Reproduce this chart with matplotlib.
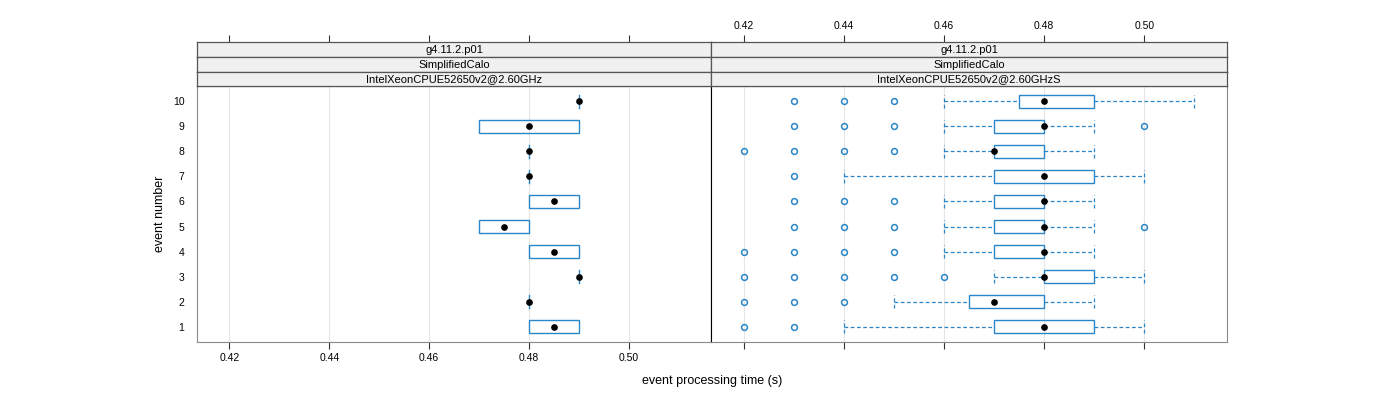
import matplotlib
matplotlib.use("Agg")
import matplotlib.pyplot as plt
import numpy as np

plt.rcParams["font.family"] = ["Liberation Sans", "DejaVu Sans"]

events = [1, 2, 3, 4, 5, 6, 7, 8, 9, 10]

strip_top = ["g4.11.2.p01", "g4.11.2.p01"]
strip_mid = ["SimplifiedCalo", "SimplifiedCalo"]
strip_bot = ["IntelXeonCPUE52650v2@2.60GHz", "IntelXeonCPUE52650v2@2.60GHzS"]

# box stats per event: whisker low, q1, median, q3, whisker high
left_lo = [0.48, 0.48, 0.49, 0.48, 0.47, 0.48, 0.48, 0.48, 0.47, 0.49]
left_q1 = [0.48, 0.48, 0.49, 0.48, 0.47, 0.48, 0.48, 0.48, 0.47, 0.49]
left_med = [0.485, 0.48, 0.49, 0.485, 0.475, 0.485, 0.48, 0.48, 0.48, 0.49]
left_q3 = [0.49, 0.48, 0.49, 0.49, 0.48, 0.49, 0.48, 0.48, 0.49, 0.49]
left_hi = [0.49, 0.48, 0.49, 0.49, 0.48, 0.49, 0.48, 0.48, 0.49, 0.49]
left_out = [[], [], [], [], [], [], [], [], [], []]

right_lo = [0.44, 0.45, 0.47, 0.46, 0.46, 0.46, 0.44, 0.46, 0.46, 0.46]
right_q1 = [0.47, 0.465, 0.48, 0.47, 0.47, 0.47, 0.47, 0.47, 0.47, 0.475]
right_med = [0.48, 0.47, 0.48, 0.48, 0.48, 0.48, 0.48, 0.47, 0.48, 0.48]
right_q3 = [0.49, 0.48, 0.49, 0.48, 0.48, 0.48, 0.49, 0.48, 0.48, 0.49]
right_hi = [0.50, 0.49, 0.50, 0.49, 0.49, 0.49, 0.50, 0.49, 0.49, 0.51]
right_out = [
    [0.42, 0.43],
    [0.42, 0.43, 0.44],
    [0.42, 0.43, 0.44, 0.45, 0.46],
    [0.42, 0.43, 0.44, 0.45],
    [0.43, 0.44, 0.45, 0.50],
    [0.43, 0.44, 0.45],
    [0.43],
    [0.42, 0.43, 0.44, 0.45],
    [0.43, 0.44, 0.45, 0.50],
    [0.43, 0.44, 0.45],
]

xticks = [0.42, 0.44, 0.46, 0.48, 0.50]
xlim = (0.4135, 0.5165)
blue = "#2a86c8"
border = "#8a8a8a"

fig = plt.figure(figsize=(14, 4), dpi=100)


def px(x0, y0, x1, y1):
    return [x0 / 1400, 1 - y1 / 400, (x1 - x0) / 1400, (y1 - y0) / 400]


def draw_panel(ax, lo, q1, med, q3, hi, outl):
    for x in xticks:
        ax.axvline(x, color="#e6e6e6", lw=0.8, zorder=0)
    h = 0.26
    for i, e in enumerate(events):
        if q3[i] > q1[i]:
            ax.add_patch(plt.Rectangle((q1[i], e - h), q3[i] - q1[i], 2 * h,
                                       fill=False, ec=blue, lw=1, zorder=2))
        else:
            ax.plot([q1[i], q1[i]], [e - h, e + h], color=blue, lw=1, zorder=2)
        if lo[i] < q1[i]:
            ax.plot([lo[i], q1[i]], [e, e], color=blue, lw=0.9, ls=(0, (3, 2)))
            ax.plot([lo[i], lo[i]], [e - h, e + h], color=blue, lw=0.9, ls=(0, (3, 2)))
        if hi[i] > q3[i]:
            ax.plot([q3[i], hi[i]], [e, e], color=blue, lw=0.9, ls=(0, (3, 2)))
            ax.plot([hi[i], hi[i]], [e - h, e + h], color=blue, lw=0.9, ls=(0, (3, 2)))
        if outl[i]:
            ax.plot(outl[i], [e] * len(outl[i]), "o", mfc="none", mec=blue,
                    ms=4.2, mew=1.1, zorder=3)
        ax.plot([med[i]], [e], "o", color="black", ms=3.8, zorder=4)
    ax.set_xlim(*xlim)
    ax.set_ylim(0.4, 10.6)
    ax.set_xticks(xticks)
    ax.set_xticklabels([f"{t:.2f}" for t in xticks])
    for s in ax.spines.values():
        s.set_color(border)


panels = [
    (197, 711, left_lo, left_q1, left_med, left_q3, left_hi, left_out),
    (711, 1227, right_lo, right_q1, right_med, right_q3, right_hi, right_out),
]

for k, (x0, x1, lo, q1, med, q3, hi, outl) in enumerate(panels):
    ax = fig.add_axes(px(x0, 86, x1, 342))
    draw_panel(ax, lo, q1, med, q3, hi, outl)
    ax.tick_params(axis="x", direction="out", length=5, labelsize=7.5,
                   color="#333333", labelbottom=(k == 0), pad=3)
    ax.spines["top"].set_color("#333333")
    if k == 0:
        ax.set_yticks(events)
        ax.set_yticklabels([str(e) for e in events], fontsize=7.5)
        ax.tick_params(axis="y", length=0, pad=9)
        ax.spines["right"].set_color("black")
        ax.set_ylabel("event number", fontsize=9, labelpad=5)
    else:
        ax.set_yticks([])
        ax.spines["left"].set_color("black")

    texts = [strip_top[k], strip_mid[k], strip_bot[k]]
    ys = [42, 57, 71.5, 86]
    for j in range(3):
        sax = fig.add_axes(px(x0, ys[j], x1, ys[j + 1]))
        sax.set_facecolor("#f0f0f0")
        sax.set_xlim(*xlim)
        sax.set_yticks([])
        for s in sax.spines.values():
            s.set_color("#555555")
            s.set_linewidth(0.9)
        sax.text(0.5, 0.45, texts[j], transform=sax.transAxes, ha="center",
                 va="center", fontsize=8)
        if j == 0:
            sax.set_xticks(xticks)
            sax.set_xticklabels([f"{t:.2f}" for t in xticks])
            sax.tick_params(axis="x", bottom=False, labelbottom=False, top=True,
                            labeltop=(k == 1), length=5, labelsize=7.5,
                            color="#333333", pad=3)
        else:
            sax.set_xticks([])

fig.text(712 / 1400, 1 - 381 / 400, "event processing time (s)", ha="center",
         va="center", fontsize=9)

fig.savefig("out.png", dpi=100)
